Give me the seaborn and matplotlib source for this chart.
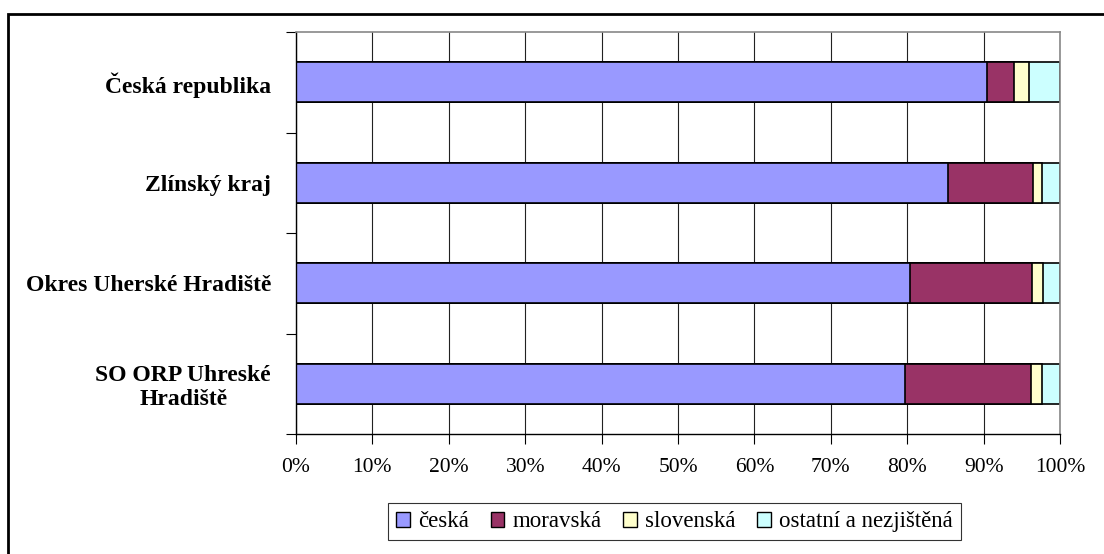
import numpy as np
import pandas as pd
import seaborn as sns
import matplotlib.pyplot as plt
from matplotlib.patches import Patch, Rectangle

# data (percent shares)
regions = ['Česká republika', 'Zlínský kraj', 'Okres Uherské Hradiště', 'SO ORP Uhreské\nHradiště']
groups = ['česká', 'moravská', 'slovenská', 'ostatní a nezjištěná']
ceska = [90.4, 85.4, 80.4, 79.7]
moravska = [3.6, 11.1, 16.0, 16.5]
slovenska = [1.9, 1.1, 1.4, 1.4]
ostatni = [4.1, 2.4, 2.2, 2.4]
colors = ['#9999FF', '#993366', '#FFFFCC', '#CCFFFF']

sns.set_theme(style='white')
plt.rcParams['font.family'] = ['Liberation Serif', 'DejaVu Serif']
plt.rcParams['text.color'] = 'black'
plt.rcParams['xtick.color'] = 'black'
plt.rcParams['ytick.color'] = 'black'

df = pd.DataFrame({'region': regions, 'česká': ceska, 'moravská': moravska,
                   'slovenská': slovenska, 'ostatní a nezjištěná': ostatni})
cum = df[groups].cumsum(axis=1)

fig = plt.figure(figsize=(11.04, 5.54), dpi=100)
ax = fig.add_axes([296 / 1104, 1 - 434 / 554, 764 / 1104, 402 / 554])

# draw stacked bars from the outermost segment inward
for g, c in zip(groups[::-1], colors[::-1]):
    sns.barplot(x=cum[g], y=df['region'], orient='h', color=c, ax=ax,
                width=0.4, edgecolor='black', linewidth=1.2, saturation=1)

ax.set_xlim(0, 100)
ax.set_ylim(3.5, -0.5)
ax.set_xticks(np.arange(0, 101, 10))
ax.set_xticklabels([f'{v}%' for v in range(0, 101, 10)], fontsize=15.5)
ax.set_xlabel('')
ax.set_ylabel('')
ax.xaxis.grid(True, color='#222222', linewidth=0.8)
ax.set_axisbelow(True)
ax.tick_params(axis='x', direction='out', length=7, width=0.8, color='black',
               bottom=True, pad=10)
ax.set_yticks(range(4))
ax.set_yticklabels(regions, fontsize=17, fontweight='bold', ha='right',
                   multialignment='center')
ax.tick_params(axis='y', length=0, pad=18)
ax.set_yticks(np.arange(-0.5, 4, 1), minor=True)
ax.tick_params(axis='y', which='minor', direction='out', length=7, width=0.8,
               color='black', left=True)
for s in ['top', 'right']:
    ax.spines[s].set_color('#888888')
    ax.spines[s].set_linewidth(1.2)
for s in ['left', 'bottom']:
    ax.spines[s].set_color('black')
    ax.spines[s].set_linewidth(1.0)

handles = [Patch(facecolor=c, edgecolor='black', label=g) for g, c in zip(groups, colors)]
leg = fig.legend(handles=handles, loc='lower center', ncol=4, fontsize=16.5,
                 bbox_to_anchor=(0.611, 0.004), frameon=True, fancybox=False,
                 edgecolor='black', handlelength=0.6, handleheight=0.6,
                 handletextpad=0.35, columnspacing=0.95, borderpad=0.35)
leg.get_frame().set_linewidth(0.8)

# outer chart border (only top and left edges fall inside the image)
fig.patches.append(Rectangle((8 / 1104, -0.1), 1.2, 1 - 14 / 554 + 0.1,
                             transform=fig.transFigure, fill=False,
                             edgecolor='black', linewidth=2))

fig.savefig('out.png', dpi=100)
